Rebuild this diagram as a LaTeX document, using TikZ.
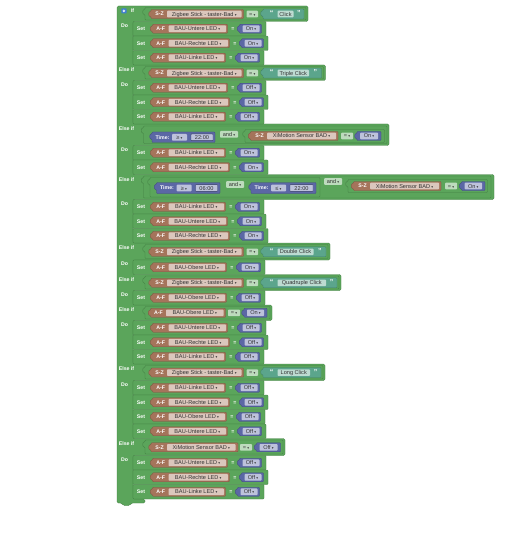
\documentclass[tikz,border=0pt]{standalone}
\usepackage{fontspec}
\setmainfont{Liberation Sans}
\newfontfamily\symfont{DejaVu Sans}
\definecolor{cG}{HTML}{5BA55B}
\definecolor{cGd}{HTML}{437F43}
\definecolor{cB}{HTML}{A5745B}
\definecolor{cBd}{HTML}{7D5542}
\definecolor{cV}{HTML}{5B67A5}
\definecolor{cVd}{HTML}{414B80}
\definecolor{cS}{HTML}{5BA58C}
\definecolor{cSd}{HTML}{417F69}
\definecolor{fB}{HTML}{DBC7BD}
\definecolor{fV}{HTML}{BDC2DB}
\definecolor{fG}{HTML}{BDDBBD}
\definecolor{fS}{HTML}{BDDBD1}
\definecolor{cIcon}{HTML}{3F7FD0}
\newcommand{\ddn}{\hspace{1.2pt}{\symfont\fontsize{3.6}{4}\selectfont ▾}}
\tikzset{
 gblk/.style={fill=cG, draw=cGd, line width=0.35pt, rounded corners=0.8pt},
 bblk/.style={fill=cB, draw=cBd, line width=0.35pt, rounded corners=0.8pt},
 vblk/.style={fill=cV, draw=cVd, line width=0.35pt, rounded corners=0.8pt},
 sblk/.style={fill=cS, draw=cSd, line width=0.35pt, rounded corners=0.8pt},
 lbl/.style={text=white, font=\fontsize{5.2}{6}\selectfont\bfseries, inner sep=0pt, text height=3.7pt, text depth=0pt},
 qlbl/.style={text=white, font=\fontsize{7}{7}\selectfont\bfseries, inner sep=0pt, text height=3.2pt, text depth=0pt},
 ftxt/.style={text=black!80, font=\fontsize{5.6}{6}\selectfont, inner sep=0pt, text height=4pt, text depth=0pt},
}
% output block with left puzzle tab: style, x1, y1, x2, y2
\newcommand{\OBlk}[5]{%
  \path[#1] ({#2},{#3}) -- ({#4},{#3}) -- ({#4},{#5}) -- ({#2},{#5}) -- ({#2},{#3+7}) .. controls ({#2-2.8},{#3+7}) and ({#2-2.8},{#3+2}) .. ({#2},{#3+2}) -- cycle;}
% field: name, x1, x2, yc, fill, text
\newcommand{\Fld}[6]{%
  \path[fill=#5, rounded corners=0.8pt] ({#2},{#4-3.3}) rectangle ({#3},{#4+3.3});
  \node[ftxt] (#1) at ({(#2+#3)/2},{#4}) {#6};}
% bordered text field
\newcommand{\FldB}[6]{%
  \path[fill=#5, draw=cVd!80!black, line width=0.4pt, rounded corners=0.6pt] ({#2},{#4-3.4}) rectangle ({#3},{#4+3.4});
  \node[ftxt] (#1) at ({(#2+#3)/2},{#4}) {#6};}
% set row: id, top, LED, field width, value
\newcommand{\SetRow}[5]{%
  \pgfmathsetmacro\rYc{#2+7.25}%
  \pgfmathsetmacro\rFe{169+#4}%
  \pgfmathsetmacro\rBe{\rFe+1.5}%
  \pgfmathsetmacro\rEe{\rBe+38.5}%
  \path[gblk] (133,{#2}) rectangle (\rEe,{#2+14.5});
  \node[lbl] (#1s) at (141,\rYc) {Set};
  \OBlk{bblk}{152.5}{\rYc-4.5}{\rBe}{\rYc+4.5}
  \node[lbl] (#1a) at (160.8,\rYc) {A-F};
  \Fld{#1f}{168.5}{\rFe}{\rYc}{fB}{BAU-#3 LED\ddn}
  \node[lbl] (#1e) at ({\rBe+5.5},\rYc) {=};
  \OBlk{vblk}{\rBe+12}{\rYc-4.5}{\rBe+34}{\rYc+4.5}
  \Fld{#1v}{\rBe+15}{\rBe+32}{\rYc}{fV}{#5\ddn}}
% header with compare against string: id, start, end, field end, header end, text
\newcommand{\StrHdr}[6]{%
  \pgfmathsetmacro\hC{(#2+#3)/2+0.3}%
  \OBlk{gblk}{145}{#2+1.5}{#5-2}{#3-1.5}
  \OBlk{bblk}{151}{\hC-4.5}{243.5}{\hC+4.5}
  \node[lbl] (#1sz) at (159.5,\hC) {S-Z};
  \Fld{#1f}{167}{241.5}{\hC}{fB}{Zigbee Stick - taster-Bad\ddn}
  \Fld{#1eq}{246.5}{258}{\hC}{fG}{=\ddn}
  \OBlk{sblk}{263}{\hC-5}{#5-4}{\hC+5}
  \node[qlbl] (#1qa) at (271.5,\hC) {“};
  \Fld{#1s}{277.5}{#4}{\hC}{fS}{#6}
  \node[qlbl] (#1qb) at ({(#4+#5-4)/2},\hC) {”};}
\begin{document}
\begin{tikzpicture}[x=1pt,y=-1pt]
\useasboundingbox (0,0) rectangle (511,540);
\fill[white] (0,0) rectangle (511,540);
% main if block
\path[gblk, rounded corners=1.5pt] (117,6) -- (308,6) -- (308,21.5) -- (133,21.5) -- (133,65) -- (325.5,65) -- (325.5,80.5) -- (133,80.5) -- (133,124) -- (389,124) -- (389,145.5) -- (133,145.5) -- (133,174.5) -- (494,174.5) -- (494,199.5) -- (133,199.5) -- (133,243) -- (330,243) -- (330,260) -- (133,260) -- (133,274.5) -- (341,274.5) -- (341,290.5) -- (133,290.5) -- (133,305) -- (272,305) -- (272,320.5) -- (133,320.5) -- (133,364) -- (325,364) -- (325,380.5) -- (133,380.5) -- (133,438.5) -- (285,438.5) -- (285,455.5) -- (133,455.5) -- (133,499) -- (145,499) -- (145,503) -- (131,503) -- (130,505.5) -- (123,505.5) -- (122,503) -- (117,503) -- cycle;
% mutator icon
\path[fill=cIcon, rounded corners=0.7pt] (121.3,8.3) rectangle (126.5,13.5);
\node[circle, fill=white, inner sep=0pt, minimum size=2.8pt] (gear) at (123.9,10.9) {};
\node[circle, fill=cIcon, inner sep=0pt, minimum size=1pt] (gearhole) at (123.9,10.9) {};
\node[lbl] (iflbl) at (132.6,10.6) {If};
% labels Else if / Do
\node[lbl] (el1) at (126.5,69.8) {Else if};
\node[lbl] (el2) at (126.5,128.8) {Else if};
\node[lbl] (el3) at (126.5,179.3) {Else if};
\node[lbl] (el4) at (126.5,247.8) {Else if};
\node[lbl] (el5) at (126.5,279.3) {Else if};
\node[lbl] (el6) at (126.5,309.8) {Else if};
\node[lbl] (el7) at (126.5,368.8) {Else if};
\node[lbl] (el8) at (126.5,443.3) {Else if};
\node[lbl] (do0) at (124.5,25.5) {Do};
\node[lbl] (do1) at (124.5,84.5) {Do};
\node[lbl] (do2) at (124.5,149.5) {Do};
\node[lbl] (do3) at (124.5,203.5) {Do};
\node[lbl] (do4) at (124.5,264) {Do};
\node[lbl] (do5) at (124.5,294.5) {Do};
\node[lbl] (do6) at (124.5,324.5) {Do};
\node[lbl] (do7) at (124.5,384.5) {Do};
\node[lbl] (do8) at (124.5,459.5) {Do};
% string compare headers
\StrHdr{h0}{6}{21.5}{293.5}{308}{Click}
\StrHdr{h1}{65}{80.5}{309}{325.5}{Triple Click}
\StrHdr{h4}{243}{260}{313.5}{330}{Double Click}
\StrHdr{h5}{274.5}{290.5}{326}{341}{Quadruple Click}
\StrHdr{h7}{364}{380.5}{310}{325}{Long Click}
% header 2: time and motion
\OBlk{gblk}{143.5}{126}{387}{143.5}
\OBlk{vblk}{152}{132}{215}{142.5}
\node[lbl] (h2t) at (162.5,137.3) {Time:};
\Fld{h2op}{172}{187}{137.3}{fV}{≥\ddn}
\FldB{h2tm}{191}{213}{137.3}{fV}{22:00}
\Fld{h2and}{220}{238}{134.3}{fG}{and\ddn}
\OBlk{gblk}{245}{129.5}{384.5}{142.5}
\OBlk{bblk}{250.5}{131.5}{338}{140.5}
\node[lbl] (h2sz) at (259.5,136) {S-Z};
\Fld{h2f}{267}{336}{136}{fB}{XiMotion Sensor BAD\ddn}
\Fld{h2eq}{341}{353}{136}{fG}{=\ddn}
\OBlk{vblk}{357}{131.5}{381}{140.5}
\Fld{h2v}{360}{378}{136}{fV}{On\ddn}
% header 3: two times and motion
\OBlk{gblk}{143.5}{176}{491}{198}
\OBlk{gblk}{150}{177.5}{320}{197}
\OBlk{vblk}{156.5}{182.5}{220}{193.5}
\node[lbl] (h3ta) at (167,188) {Time:};
\Fld{h3opa}{176.5}{191.5}{188}{fV}{≥\ddn}
\FldB{h3tma}{195.5}{217.5}{188}{fV}{06:00}
\Fld{h3anda}{226}{244}{184.5}{fG}{and\ddn}
\OBlk{vblk}{251}{182.5}{316}{193.5}
\node[lbl] (h3tb) at (261.5,188) {Time:};
\Fld{h3opb}{271}{286}{188}{fV}{≤\ddn}
\FldB{h3tmb}{290}{313}{188}{fV}{22:00}
\Fld{h3andb}{324}{342}{181.5}{fG}{and\ddn}
\OBlk{gblk}{348}{179.5}{487.5}{192.5}
\OBlk{bblk}{353.5}{181.5}{441}{190.5}
\node[lbl] (h3sz) at (362.5,186) {S-Z};
\Fld{h3f}{370}{439}{186}{fB}{XiMotion Sensor BAD\ddn}
\Fld{h3eq}{445}{457}{186}{fG}{=\ddn}
\OBlk{vblk}{461.5}{181.5}{485}{190.5}
\Fld{h3v}{464.5}{482}{186}{fV}{On\ddn}
% header 6: A-F Obere LED = On
\OBlk{gblk}{145}{306.5}{270}{319}
\OBlk{bblk}{150.5}{308.3}{225.5}{317.3}
\node[lbl] (h6af) at (158.5,312.8) {A-F};
\Fld{h6f}{166}{223.5}{312.8}{fB}{BAU-Obere LED\ddn}
\Fld{h6eq}{228}{240}{312.8}{fG}{=\ddn}
\OBlk{vblk}{244}{308.3}{267}{317.3}
\Fld{h6v}{247}{264}{312.8}{fV}{On\ddn}
% header 8: XiMotion = Off
\OBlk{gblk}{145}{440}{283}{454}
\OBlk{bblk}{151}{442.8}{238}{451.8}
\node[lbl] (h8sz) at (159.5,447.3) {S-Z};
\Fld{h8f}{167}{235.5}{447.3}{fB}{XiMotion Sensor BAD\ddn}
\Fld{h8eq}{240}{252}{447.3}{fG}{=\ddn}
\OBlk{vblk}{256.5}{442.8}{280.5}{451.8}
\Fld{h8v}{259.5}{277.5}{447.3}{fV}{Off\ddn}
% set rows
\SetRow{a1}{21.5}{Untere}{57}{On}
\SetRow{a2}{36}{Rechte}{59}{On}
\SetRow{a3}{50.5}{Linke}{55}{On}
\SetRow{b1}{80.5}{Untere}{57}{Off}
\SetRow{b2}{95}{Rechte}{59}{Off}
\SetRow{b3}{109.5}{Linke}{55}{Off}
\SetRow{c1}{145.5}{Linke}{55}{On}
\SetRow{c2}{160}{Rechte}{59}{On}
\SetRow{d1}{199.5}{Linke}{55}{On}
\SetRow{d2}{214}{Untere}{57}{On}
\SetRow{d3}{228.5}{Rechte}{59}{On}
\SetRow{e1}{260}{Obere}{56}{On}
\SetRow{f1}{290.5}{Obere}{56}{Off}
\SetRow{g1}{320.5}{Untere}{57}{Off}
\SetRow{g2}{335}{Rechte}{59}{Off}
\SetRow{g3}{349.5}{Linke}{55}{Off}
\SetRow{k1}{380.5}{Linke}{55}{Off}
\SetRow{k2}{395}{Rechte}{59}{Off}
\SetRow{k3}{409.5}{Obere}{56}{Off}
\SetRow{k4}{424}{Untere}{57}{Off}
\SetRow{m1}{455.5}{Untere}{57}{Off}
\SetRow{m2}{470}{Rechte}{59}{Off}
\SetRow{m3}{484.5}{Linke}{55}{Off}
\end{tikzpicture}
\end{document}
